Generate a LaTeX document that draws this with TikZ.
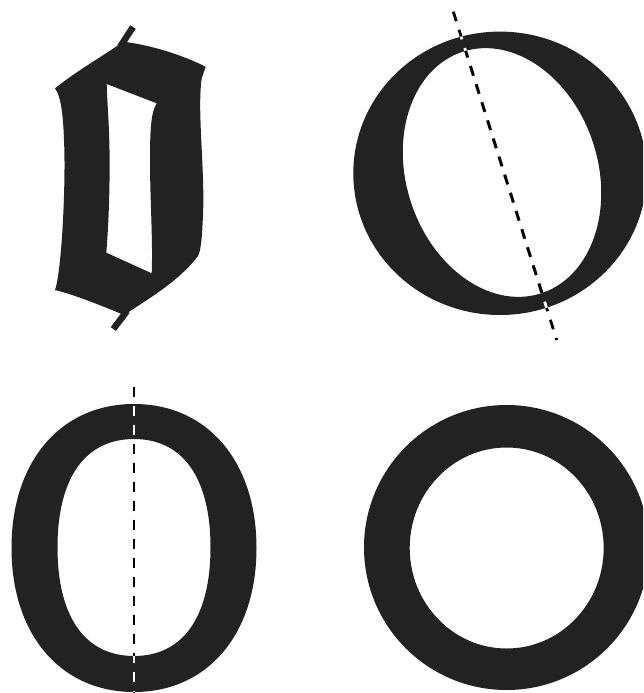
\documentclass[tikz,border=0pt]{standalone}
\definecolor{ink}{HTML}{222222}
\begin{document}
\begin{tikzpicture}[x=1pt,y=-1pt,line join=miter]
	\tikzset{glyph/.style={fill=ink,even odd rule},
		stress/.style={line width=2.8pt,dash pattern=on 10pt off 9pt}}
	\useasboundingbox (0,0) rectangle (643,693);
	\clip (0,0) rectangle (643,693);
	% blackletter O
	\fill[glyph] (123.3,41.7) .. controls (150,45) and (180,54) .. (205.7,66.7) -- (201.7,78.3)
		.. controls (197,110) and (205,170) .. (203,215) .. controls (202,238) and (201,250) .. (198,256)
		.. controls (180,280) and (150,298) .. (124,315) .. controls (100,305) and (75,295) .. (55,290)
		.. controls (62,270) and (66,180) .. (64,140) .. controls (63,110) and (60,95) .. (55,88.3)
		.. controls (78,70) and (100,58) .. (123.3,41.7) -- cycle
		(106.7,84) -- (156.7,103.3) .. controls (151,112) and (150,130) .. (150,160)
		.. controls (150,200) and (153,240) .. (151.7,273.3) -- (106.3,252.7)
		.. controls (109,220) and (110,180) .. (109.5,150) .. controls (109,120) and (107,100) .. (106.7,84) -- cycle;
	\draw[ink,line width=6.5pt] (120,47)--(133,27) (127,311)--(113.3,329);
	% oldstyle O, oblique stress
	\fill[glyph] (500,173.3) ellipse [x radius=146.7pt, y radius=141.7pt]
		(502,172.5) ellipse [x radius=95.8pt, y radius=127pt, rotate=18];
	\draw[stress] (453.3,11.7)--(556.7,340);
	\begin{scope}
		\clip (500,173.3) ellipse [x radius=146.7pt, y radius=141.7pt];
		\draw[stress,white] (453.3,11.7)--(556.7,340);
	\end{scope}
	\begin{scope}
		\clip (502,172.5) ellipse [x radius=95.8pt, y radius=127pt, rotate=18];
		\draw[stress] (453.3,11.7)--(556.7,340);
	\end{scope}
	% transitional O, vertical stress
	\fill[glyph] (256.5,548) .. controls (256.5,634.4) and (207.5,692) .. (134,692)
		.. controls (60.5,692) and (11.5,634.4) .. (11.5,548) .. controls (11.5,461.6) and (60.5,404) .. (134,404)
		.. controls (207.5,404) and (256.5,461.6) .. (256.5,548) -- cycle
		(210.5,547.5) .. controls (210.5,616.9) and (183,656) .. (134,656)
		.. controls (85,656) and (57.5,616.9) .. (57.5,547.5) .. controls (57.5,478.1) and (85,439) .. (134,439)
		.. controls (183,439) and (210.5,478.1) .. (210.5,547.5) -- cycle;
	\draw[stress] (134,386.7)--(134,700);
	\begin{scope}
		\clip (256.5,548) .. controls (256.5,634.4) and (207.5,692) .. (134,692)
			.. controls (60.5,692) and (11.5,634.4) .. (11.5,548) .. controls (11.5,461.6) and (60.5,404) .. (134,404)
			.. controls (207.5,404) and (256.5,461.6) .. (256.5,548) -- cycle;
		\draw[stress,white] (134,386.7)--(134,700);
	\end{scope}
	\begin{scope}
		\clip (210.5,547.5) .. controls (210.5,616.9) and (183,656) .. (134,656)
			.. controls (85,656) and (57.5,616.9) .. (57.5,547.5) .. controls (57.5,478.1) and (85,439) .. (134,439)
			.. controls (183,439) and (210.5,478.1) .. (210.5,547.5) -- cycle;
		\draw[stress] (134,386.7)--(134,700);
	\end{scope}
	% geometric O
	\fill[glyph] (506.5,547.5) circle (142.5pt)
		(506.7,548) ellipse [x radius=97pt, y radius=100.5pt];
\end{tikzpicture}
\end{document}
